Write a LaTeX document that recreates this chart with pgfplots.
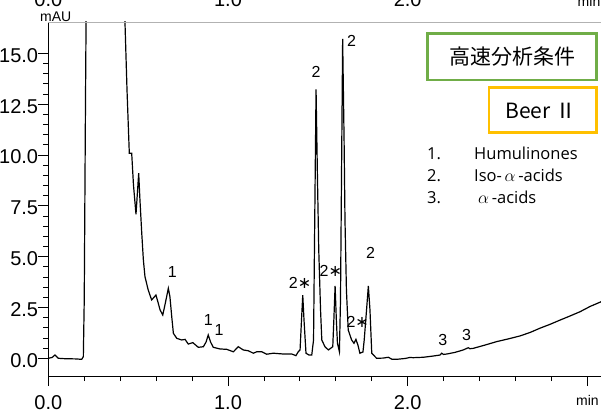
\documentclass[border=0pt]{standalone}
\usepackage{fontspec}
\setmainfont{Liberation Sans}
\newfontfamily\jp{Noto Sans CJK JP}
\newfontfamily\os{Open Sans}
\newfontfamily\dv{DejaVu Sans}
\usepackage{pgfplots}
\pgfplotsset{compat=1.18}
\definecolor{boxgreen}{RGB}{112,173,71}
\definecolor{boxyellow}{RGB}{255,192,0}
\newcommand{\st}{{\dv\fontsize{16}{16}\selectfont ∗}}

\begin{document}
\begin{tikzpicture}
\begin{axis}[
    name=ax,
    scale only axis,
    width=552.7pt, height=354pt,
    xmin=0, xmax=3.0757,
    ymin=-0.871, ymax=16.54,
    axis x line*=bottom, axis y line*=left,
    axis line style={-, line width=0.8pt},
    tick align=outside,
    major tick length=10pt, minor tick length=5pt,
    tick style={black, line width=0.8pt},
    xtick={0,1,2,3}, minor x tick num=4,
    xticklabels={0.0,1.0,2.0,{\fontsize{14}{14}\selectfont min}},
    ytick={0,2.5,...,15}, minor y tick num=4,
    /pgf/number format/assume math mode=true,
    yticklabel style={/pgf/number format/fixed, /pgf/number format/fixed zerofill, /pgf/number format/precision=1},
    every tick label/.append style={font=\fontsize{20}{22}\selectfont, inner sep=0pt},
    xticklabel style={anchor=north, yshift=-9pt},
    yticklabel style={anchor=east, yshift=-2pt},
    clip mode=individual,
]

% chromatogram trace
\addplot[black, line width=1.2pt] coordinates {
(0,0.0) (0.021,0.04) (0.037,0.16) (0.056,0.0) (0.093,-0.02) (0.149,-0.03)
(0.186,-0.05) (0.195,0.08) (0.200,2.87) (0.207,12.7) (0.211,17.6)
(0.4228,17.62) (0.4268,16.49) (0.438,13.20) (0.4508,10.08) (0.4641,10.08)
(0.474,8.52) (0.488,7.08) (0.503,9.10) (0.510,7.79) (0.520,6.16) (0.529,4.84)
(0.538,4.01) (0.556,3.36) (0.575,2.87) (0.585,2.97) (0.599,3.11) (0.610,2.77)
(0.622,2.38) (0.637,2.13) (0.649,2.62) (0.668,3.44) (0.677,3.02) (0.686,2.13)
(0.696,1.23) (0.715,0.98) (0.742,0.90) (0.761,0.93) (0.779,0.70) (0.804,0.77)
(0.835,0.54) (0.863,0.57) (0.878,0.80) (0.890,1.15) (0.903,0.80) (0.918,0.54)
(0.955,0.46) (0.993,0.44) (1.030,0.32) (1.057,0.57) (1.085,0.41) (1.113,0.37)
(1.141,0.25) (1.160,0.32) (1.188,0.32) (1.215,0.20) (1.252,0.25) (1.308,0.21)
(1.355,0.21) (1.378,0.13) (1.391,0.32) (1.401,0.41) (1.409,1.88) (1.416,3.11)
(1.423,1.88) (1.434,0.25) (1.451,0.16) (1.466,0.16) (1.476,0.90) (1.481,5.33)
(1.490,13.23) (1.498,8.77) (1.505,5.33) (1.515,2.38) (1.522,0.90) (1.540,0.56)
(1.559,0.41) (1.583,0.57) (1.589,1.88) (1.596,3.56) (1.603,1.88) (1.609,0.74)
(1.620,0.32) (1.626,2.87) (1.638,15.71) (1.646,10.74) (1.651,6.80) (1.659,3.36)
(1.669,1.39) (1.688,0.90) (1.701,0.74) (1.712,0.93) (1.723,0.65) (1.734,0.25)
(1.751,0.31) (1.758,0.90) (1.771,2.38) (1.781,3.56) (1.790,2.38) (1.800,0.25)
(1.827,0.0) (1.863,0.01) (1.892,0.05) (1.913,-0.05) (1.939,-0.05) (1.985,-0.01)
(2.012,0.04) (2.031,0.03) (2.087,0.05) (2.141,0.11) (2.180,0.16) (2.189,0.25)
(2.199,0.19) (2.217,0.21) (2.263,0.29) (2.309,0.41) (2.337,0.52) (2.346,0.47)
(2.365,0.49) (2.430,0.65) (2.495,0.82) (2.558,0.95) (2.625,1.10) (2.681,1.27)
(2.736,1.48) (2.792,1.67) (2.848,1.88) (2.903,2.08) (2.959,2.29) (3.015,2.55)
(3.076,2.78)
};

% peak labels
\begin{scope}[every node/.style={font=\fontsize{16}{16}\selectfont, inner sep=0pt}]
\node at (axis cs:0.690,4.26) {1};
\node at (axis cs:0.890,1.88) {1};
\node at (axis cs:0.950,1.39) {1};
\node at (axis cs:1.401,3.69) {2\st};
\node at (axis cs:1.490,14.10) {2};
\node at (axis cs:1.688,15.62) {2};
\node at (axis cs:1.572,4.31) {2\st};
\node at (axis cs:1.722,1.80) {2\st};
\node at (axis cs:1.794,5.19) {2};
\node at (axis cs:2.195,0.90) {3};
\node at (axis cs:2.328,1.15) {3};
\end{scope}
\end{axis}

% top frame line and clipped top labels
\draw[gray!60, line width=0.8pt] (ax.north west) -- (ax.north east);
\begin{scope}[shift={([xshift=-48.3pt,yshift=22pt]ax.north west)}, x=1pt, y=-1pt]
\node[anchor=base west, inner sep=0pt, font=\fontsize{14}{14}\selectfont] at (40,22) {mAU};
\node[anchor=base, inner sep=0pt, font=\fontsize{20}{22}\selectfont] at (48.3,7) {0.0};
\node[anchor=base, inner sep=0pt, font=\fontsize{20}{22}\selectfont] at (228,7) {1.0};
\node[anchor=base, inner sep=0pt, font=\fontsize{20}{22}\selectfont] at (407.7,7) {2.0};
\node[anchor=base, inner sep=0pt, font=\fontsize{14}{14}\selectfont] at (589,7) {min};
% condition boxes
\draw[boxgreen, line width=2.5pt] (427.7,33.7) rectangle (596.7,80);
\node[font=\jp\fontsize{21}{21}\selectfont] at (512,57) {高速分析条件};
\draw[boxyellow, line width=2.5pt] (489,87.7) rectangle (596.7,132.7);
\node[font=\jp\fontsize{21}{21}\selectfont] at (541,110.5) {Beer Ⅱ};
% peak list
\begin{scope}[every node/.style={anchor=base west, inner sep=0pt, font=\os\fontsize{16.5}{16.5}\selectfont}]
\node at (427,159.3) {1.};
\node at (474,159.3) {Humulinones};
\node at (427,181.7) {2.};
\node at (474,181.7) {Iso-\,$\alpha$\,-acids};
\node at (427,203.3) {3.};
\node at (478,203.3) {$\alpha$\,-acids};
\end{scope}
\pgfresetboundingbox
\path[use as bounding box] (0,0) rectangle (601,414);
\end{scope}
\end{tikzpicture}
\end{document}
